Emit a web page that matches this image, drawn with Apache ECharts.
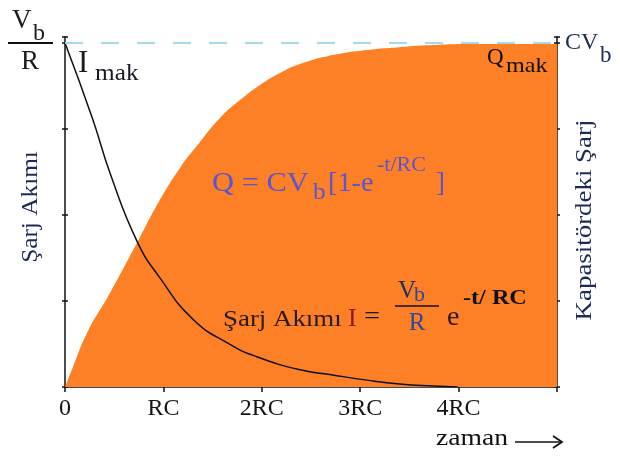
<!DOCTYPE html>
<html>
<head>
<meta charset="utf-8">
<script src="https://cdn.jsdelivr.net/npm/echarts@6/dist/echarts.min.js"></script>
<style>
  html, body { margin: 0; padding: 0; background: #fff; }
  #chart { width: 620px; height: 457px; }
</style>
</head>
<body>
<div id="chart"></div>
<script>
// x in RC units, y as fraction of the maximum
var qTime  = [0, 0.081, 0.224, 0.457, 0.732, 0.965, 1.169, 1.372, 1.575, 1.778, 1.982, 2.185, 2.388, 2.724, 3.069, 3.404, 3.740, 4.146, 5.0];
var qValue = [0, 0.058, 0.157, 0.273, 0.419, 0.544, 0.637, 0.712, 0.782, 0.834, 0.878, 0.913, 0.939, 0.965, 0.980, 0.988, 0.994, 0.997, 0.997];
var iTime  = [0, 0.28, 0.46, 0.73, 0.97, 1.30, 1.65, 1.95, 2.39, 2.72, 3.07, 3.40, 3.74, 3.99];
var iValue = [1.0, 0.78, 0.62, 0.425, 0.315, 0.197, 0.128, 0.088, 0.050, 0.035, 0.020, 0.009, 0.003, 0];
var tickLabels = ['0', 'RC', '2RC', '3RC', '4RC'];

var SERIF = '"Liberation Serif", "DejaVu Serif", serif';
var ORANGE = '#fd7f26';
var SX = 1.1;   // the original lettering runs a little wider than Liberation Serif

function pairs(xs, ys) {
    return xs.map(function (x, i) { return [x, ys[i]]; });
}

function fontOf(p) {
    return (p.bold ? 'bold ' : '') + p.size + 'px ' + SERIF;
}

// y is the baseline, unless p.mid is set (then y is the middle)
function txt(x, y, text, p, align) {
    return {
        type: 'text', z: 100,
        x: x, y: p.mid ? y : y - 0.3 * p.size,
        rotation: p.rotation || 0,
        scaleX: p.sx || SX,
        style: {
            text: text, font: fontOf(p), fill: p.color || '#111',
            align: align, textAlign: align,
            verticalAlign: 'middle', textVerticalAlign: 'middle'
        }
    };
}

function parts(list) {
    return list.map(function (p) { return txt(p.x, p.y, p.text, p, 'left'); });
}

function hline(x1, x2, y, w) {
    return { type: 'line', z: 100, shape: { x1: x1, y1: y, x2: x2, y2: y }, style: { stroke: '#111', lineWidth: w || 1.5 } };
}

var NAVY = '#1c2b55';
var DARK = '#1a1a22';
var QC = '#5a55d2';
var graphics = [];

// V_b / R at the top left
graphics = graphics.concat(parts([
    { text: 'V', size: 27, x: 12, y: 29, color: DARK, sx: 1 },
    { text: 'b', size: 24, x: 33, y: 41, color: DARK, sx: 1 }
]));
graphics.push(hline(8, 53, 43, 2));
graphics.push(txt(30, 70, 'R', { size: 27, color: DARK, sx: 1 }, 'center'));
// I_mak
graphics = graphics.concat(parts([
    { text: 'I', size: 31, x: 78, y: 73, color: DARK, sx: 1 },
    { text: 'mak', size: 23, x: 95, y: 81, color: DARK }
]));
// CV_b
graphics = graphics.concat(parts([
    { text: 'CV', size: 24, x: 565, y: 50, color: NAVY, sx: 1 },
    { text: 'b', size: 23, x: 600, y: 63, color: NAVY, sx: 1 }
]));
// Q_mak
graphics = graphics.concat(parts([
    { text: 'Q', size: 23, x: 487, y: 65, color: '#111', sx: 1 },
    { text: 'mak', size: 22, x: 506, y: 73, color: '#111' }
]));
// Q = CV_b [1-e^-t/RC]
graphics = graphics.concat(parts([
    { text: 'Q = CV', size: 27, x: 212, y: 192, color: QC, sx: 1.13 },
    { text: 'b', size: 23, x: 313, y: 200, color: QC },
    { text: '[1-e', size: 27, x: 328, y: 192, color: QC, sx: 1.05 },
    { text: '-t/RC', size: 20, x: 377, y: 172, color: QC, sx: 1.1 },
    { text: ']', size: 27, x: 436, y: 192, color: QC, sx: 1 }
]));
// Şarj Akımı I = V_b / R e^-t/RC
graphics = graphics.concat(parts([
    { text: 'Şarj Akımı', size: 24, x: 223, y: 327, color: '#2a1a14', sx: 1.12 },
    { text: 'I', size: 26, x: 348, y: 327, color: '#8b1a1a', sx: 1 },
    { text: '=', size: 26, x: 364, y: 325, color: DARK, sx: 1.1 },
    { text: 'V', size: 25, x: 398, y: 299, color: '#1f2f5f', sx: 1 },
    { text: 'b', size: 22, x: 414, y: 302, color: '#2a4a9a', sx: 1 },
    { text: 'e', size: 28, x: 447, y: 326, color: '#2a1a1a', sx: 1 },
    { text: '-t/ RC', size: 22, x: 463, y: 305, color: '#111', bold: true, sx: 1.1 }
]));
graphics.push(hline(395, 439, 306, 1.5));
graphics.push(txt(417, 331, 'R', { size: 25, color: '#2a4a9a', sx: 1 }, 'center'));
// axis titles
graphics.push(txt(31, 207, 'Şarj Akımı', { size: 23, color: NAVY, rotation: Math.PI / 2, mid: true }, 'center'));
graphics.push(txt(585, 220, 'Kapasitördeki Şarj', { size: 24, color: NAVY, rotation: Math.PI / 2, mid: true, sx: 1.12 }, 'center'));
// zaman ->
graphics.push(txt(436, 446, 'zaman', { size: 24, color: '#111', sx: 1.15 }, 'left'));
graphics.push(hline(515, 561, 442, 1.5));
graphics.push({
    type: 'polyline', z: 100,
    shape: { points: [[553, 436], [562, 442], [553, 448]] },
    style: { stroke: '#111', lineWidth: 1.8, fill: null }
});

var yMax = 1.0175;

function xAx(inside, labels) {
    return {
        type: 'value', min: 0, max: 5, interval: 1,
        axisLine: { show: labels, lineStyle: { color: '#111', width: 1.5 } },
        axisTick: { show: true, inside: inside, length: inside ? 5 : 4, lineStyle: { color: '#111', width: 1.5 } },
        axisLabel: {
            show: labels, margin: 10, showMaxLabel: false,
            color: '#151515', fontFamily: SERIF, fontSize: 24,
            formatter: function (v) { return tickLabels[v] || ''; }
        },
        splitLine: { show: false }
    };
}

function yAx(pos, inside, line) {
    return {
        type: 'value', position: pos, min: 0, max: yMax, interval: 0.25,
        axisLine: { show: line, onZero: false, lineStyle: { color: '#111', width: 1.5 } },
        axisTick: { show: true, inside: inside, length: 3, lineStyle: { color: '#111', width: 1.5 } },
        axisLabel: { show: false },
        splitLine: { show: false }
    };
}

var chart = echarts.init(document.getElementById('chart'), null, { renderer: 'canvas' });
chart.setOption({
    animation: false,
    backgroundColor: '#fff',
    grid: { left: 65, right: 63, top: 37, bottom: 70 },
    xAxis: [xAx(false, true), xAx(true, false)],
    yAxis: [yAx('left', false, true), yAx('left', true, false), yAx('right', false, true), yAx('right', true, false)],
    series: [
        {
            name: 'Q', type: 'line', data: pairs(qTime, qValue),
            smooth: 0.5, showSymbol: false, symbol: 'none',
            lineStyle: { width: 0, color: ORANGE },
            itemStyle: { color: ORANGE },
            areaStyle: { color: ORANGE, opacity: 1 },
            markLine: {
                silent: true, symbol: 'none', z: 5,
                label: { show: false },
                lineStyle: { color: '#a4dbe6', width: 2, type: [18, 18] },
                data: [{ yAxis: 1 }]
            }
        },
        {
            name: 'I', type: 'line', data: pairs(iTime, iValue),
            smooth: 0.5, showSymbol: false, symbol: 'none', z: 3,
            lineStyle: { width: 1.5, color: '#111' }
        }
    ],
    graphic: { elements: graphics }
});
</script>
</body>
</html>
